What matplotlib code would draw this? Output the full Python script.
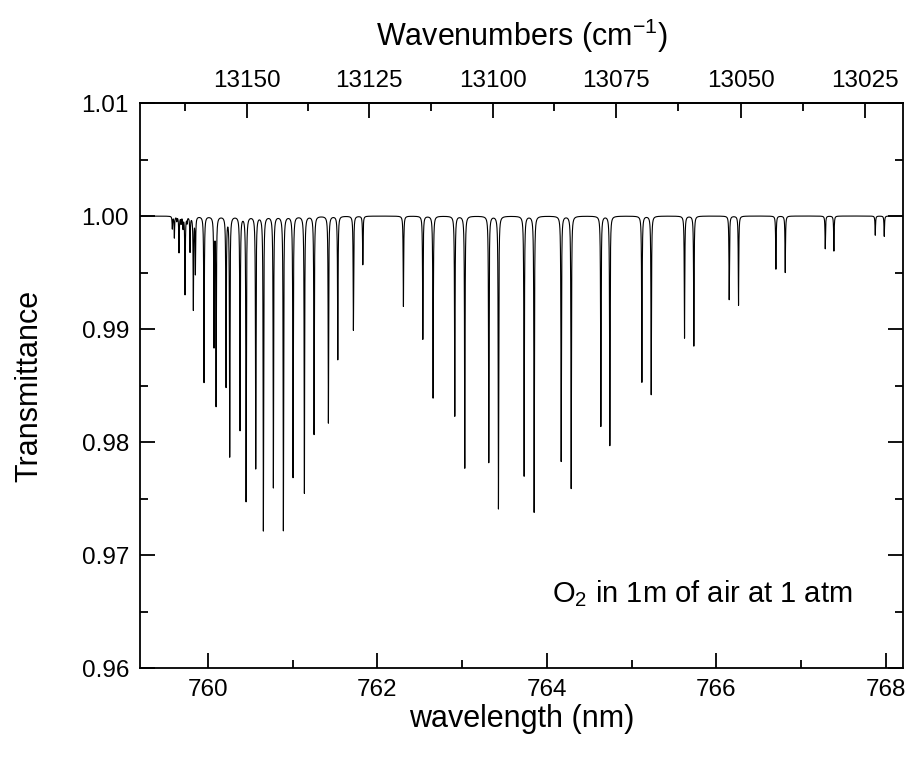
import numpy as np
import matplotlib
matplotlib.use("Agg")
import matplotlib.pyplot as plt
from matplotlib.ticker import MultipleLocator, FixedLocator, FormatStrFormatter

plt.rcParams['font.family'] = ['Liberation Sans', 'DejaVu Sans']
plt.rcParams['mathtext.fontset'] = 'custom'
plt.rcParams['mathtext.rm'] = 'Liberation Sans'
plt.rcParams['mathtext.it'] = 'Liberation Sans:italic'

# O2 A-band line centres (nm) and transmittance at line centre
line_nm = [759.581, 759.605, 759.633, 759.660, 759.684, 759.707, 759.731, 759.755,
           759.790, 759.829, 759.853, 759.955, 760.073, 760.097, 760.215, 760.258,
           760.380, 760.451, 760.565, 760.655, 760.773, 760.891, 761.005, 761.139,
           761.253, 761.422, 761.533, 761.717, 761.828, 762.307, 762.536, 762.657,
           762.913, 763.031, 763.314, 763.428, 763.731, 763.849, 764.168, 764.286,
           764.636, 764.742, 765.120, 765.230, 765.623, 765.733, 766.150, 766.260,
           766.701, 766.811, 767.283, 767.385, 767.873, 767.979]
line_T = [0.9989, 0.9981, 0.9996, 0.9968, 0.9994, 0.9990, 0.9931, 0.9995,
          0.9969, 0.9918, 0.9950, 0.9853, 0.9887, 0.9834, 0.9850, 0.9788,
          0.9811, 0.9748, 0.9777, 0.9722, 0.9760, 0.9722, 0.9769, 0.9755,
          0.9807, 0.9817, 0.9873, 0.9899, 0.9957, 0.9920, 0.9891, 0.9839,
          0.9823, 0.9777, 0.9782, 0.9741, 0.9770, 0.9738, 0.9783, 0.9759,
          0.9814, 0.9797, 0.9853, 0.9842, 0.9892, 0.9885, 0.9926, 0.9921,
          0.9953, 0.9950, 0.9971, 0.9969, 0.9983, 0.9982]

wn_major = [13025, 13050, 13075, 13100, 13125, 13150]
wn_minor = [13012.5, 13037.5, 13062.5, 13087.5, 13112.5, 13137.5, 13162.5]

hwhm = 0.0035  # nm, Lorentzian half width

centres = np.array(line_nm)
depths = 1.0 - np.array(line_T)
wl = np.sort(np.concatenate([np.linspace(759.2, 768.2, 30000), centres]))
T = 1.0 - (depths[None, :] * hwhm**2 /
           ((wl[:, None] - centres[None, :])**2 + hwhm**2)).sum(axis=1)

fig = plt.figure(figsize=(9.11, 7.58), dpi=100)
ax = fig.add_axes([0.1537, 0.1187, 0.8375, 0.7454])
ax.plot(wl, T, color='black', lw=0.8)

ax.set_xlim(759.2, 768.2)
ax.set_ylim(0.96, 1.01)
ax.xaxis.set_major_locator(MultipleLocator(2))
ax.xaxis.set_minor_locator(MultipleLocator(1))
ax.yaxis.set_major_locator(MultipleLocator(0.01))
ax.yaxis.set_minor_locator(MultipleLocator(0.005))
ax.yaxis.set_major_formatter(FormatStrFormatter('%.2f'))

ax.tick_params(which='both', direction='in', right=True, width=1.3, labelsize=17.5)
ax.tick_params(which='major', length=11, pad=8)
ax.tick_params(which='minor', length=6)
for s in ax.spines.values():
    s.set_linewidth(1.3)

ax.set_xlabel('wavelength (nm)', fontsize=22, labelpad=2)
ax.set_ylabel('Transmittance', fontsize=22, labelpad=27)

secax = ax.secondary_xaxis('top', functions=(lambda x: 1e7 / x, lambda x: 1e7 / x))
secax.xaxis.set_major_locator(FixedLocator(wn_major))
secax.xaxis.set_minor_locator(FixedLocator(wn_minor))
secax.xaxis.set_major_formatter(FormatStrFormatter('%d'))
secax.tick_params(which='both', direction='in', width=1.3, labelsize=17.5)
secax.tick_params(which='major', length=11, pad=8)
secax.tick_params(which='minor', length=6)
secax.spines['top'].set_linewidth(1.3)
secax.set_xlabel('Wavenumbers (cm$^{\\mathrm{-1}}$)', fontsize=22, labelpad=17)

ax.text(0.54, 0.117, 'O$_2$ in 1m of air at 1 atm', transform=ax.transAxes,
        fontsize=21, ha='left', va='baseline')

fig.savefig('out.png', dpi=100)
